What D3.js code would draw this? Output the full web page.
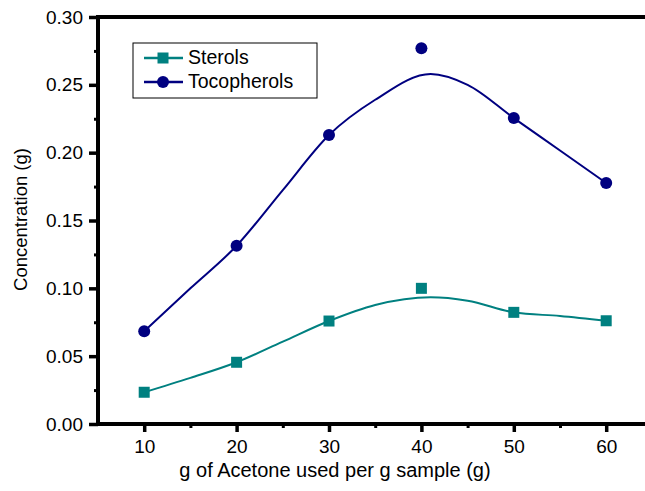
<!DOCTYPE html>
<html>
<head>
<meta charset="utf-8">
<script src="https://cdn.jsdelivr.net/npm/d3@7"></script>
<style>
    body { margin: 0; background: #fff; }
    svg { display: block; font-family: "Liberation Sans", Arial, sans-serif; }
</style>
</head>
<body>
<div id="chart"></div>
<script>
// acetone ratio (g per g sample)
const acetone = [10, 20, 30, 40, 50, 60];

// measured concentrations (g)
const sterols = [0.0234, 0.0455, 0.0759, 0.1000, 0.0823, 0.0761];
const tocopherols = [0.0683, 0.1314, 0.2130, 0.2769, 0.2255, 0.1776];

// smoothed trend lines
const fitX = [10, 15, 20, 25, 30, 35, 41, 45, 50, 55, 60];
const sterolsFit = [0.0234, 0.0340, 0.0455, 0.0607, 0.0759, 0.0877, 0.0934, 0.0909, 0.0823, 0.0796, 0.0761];
const tocopherolsFit = [0.0683, 0.1000, 0.1314, 0.1724, 0.2130, 0.2390, 0.2580, 0.2500, 0.2255, 0.2016, 0.1776];

const yTicks = [0, 0.05, 0.10, 0.15, 0.20, 0.25, 0.30];
const xTicks = [10, 20, 30, 40, 50, 60];

const width = 645;
const height = 491;
const margin = { top: 17, left: 98, bottom: 67 };

const svg = d3.select('#chart')
    .append('svg')
    .attr('width', width)
    .attr('height', height);

const xScale = d3.scaleLinear()
    .domain([5, 65])
    .range([margin.left, margin.left + 60 * 9.24]);

const yScale = d3.scaleLinear()
    .domain([0, 0.30])
    .range([height - margin.bottom, margin.top]);

// minor ticks
const axisColor = '#000';
svg.append('g')
    .attr('transform', `translate(${margin.left},0)`)
    .call(d3.axisLeft(yScale).tickValues(d3.range(0.025, 0.3, 0.05)).tickSize(4).tickFormat(''))
    .call(g => g.select('.domain').remove())
    .call(g => g.selectAll('line').attr('stroke', axisColor).attr('stroke-width', 3));

svg.append('g')
    .attr('transform', `translate(0,${yScale(0)})`)
    .call(d3.axisBottom(xScale).tickValues([15, 25, 35, 45, 55]).tickSize(4).tickFormat(''))
    .call(g => g.select('.domain').remove())
    .call(g => g.selectAll('line').attr('stroke', axisColor).attr('stroke-width', 3));

// y axis
svg.append('g')
    .attr('transform', `translate(${margin.left},0)`)
    .call(d3.axisLeft(yScale).tickValues(yTicks).tickSize(9).tickPadding(6).tickFormat(d3.format('.2f')))
    .call(g => g.select('.domain').remove())
    .call(g => g.selectAll('line').attr('stroke', axisColor).attr('stroke-width', 3.5))
    .call(g => g.selectAll('text').attr('font-size', 19).attr('fill', '#000'));

// x axis
svg.append('g')
    .attr('transform', `translate(0,${yScale(0)})`)
    .call(d3.axisBottom(xScale).tickValues(xTicks).tickSize(8).tickPadding(8))
    .call(g => g.select('.domain').remove())
    .call(g => g.selectAll('line').attr('stroke', axisColor).attr('stroke-width', 3.5))
    .call(g => g.selectAll('text').attr('font-size', 19).attr('fill', '#000'));

// frame: left, bottom and top lines
const [x0, x1] = xScale.range();
svg.append('path')
    .attr('d', `M${x0},${yScale(0.30)}H${x1}M${x0},${yScale(0.30) - 2}V${yScale(0) + 2}M${x0},${yScale(0)}H${x1}`)
    .attr('fill', 'none')
    .attr('stroke', '#000')
    .attr('stroke-width', 4);

const series = [
    { name: 'Sterols', values: sterols, fit: sterolsFit, color: '#008080', marker: 'square' },
    { name: 'Tocopherols', values: tocopherols, fit: tocopherolsFit, color: '#000080', marker: 'circle' }
];

const line = d3.line()
    .x(d => xScale(d[0]))
    .y(d => yScale(d[1]))
    .curve(d3.curveMonotoneX);

function drawMarker(g, s, x, y) {
    if (s.marker === 'square') {
        g.append('rect')
            .attr('x', x - 5.5).attr('y', y - 5.5)
            .attr('width', 11).attr('height', 11)
            .attr('fill', s.color);
    } else {
        g.append('circle')
            .attr('cx', x).attr('cy', y).attr('r', 6)
            .attr('fill', s.color);
    }
}

series.forEach(s => {
    svg.append('path')
        .datum(fitX.map((x, i) => [x, s.fit[i]]))
        .attr('d', line)
        .attr('fill', 'none')
        .attr('stroke', s.color)
        .attr('stroke-width', 2);

    const g = svg.append('g');
    acetone.forEach((x, i) => drawMarker(g, s, xScale(x), yScale(s.values[i])));
});

// legend
const legend = svg.append('g').attr('transform', 'translate(133,43)');
legend.append('rect')
    .attr('width', 184).attr('height', 55)
    .attr('fill', '#fff').attr('stroke', '#000').attr('stroke-width', 1);
series.forEach((s, i) => {
    const y = 15 + i * 24;
    legend.append('line')
        .attr('x1', 11).attr('x2', 50).attr('y1', y).attr('y2', y)
        .attr('stroke', s.color).attr('stroke-width', 2.5);
    drawMarker(legend, s, 30, y);
    legend.append('text')
        .attr('x', 55).attr('y', y + 6)
        .attr('font-size', 19.5)
        .text(s.name);
});

// axis titles
svg.append('text')
    .attr('x', 335)
    .attr('y', 477)
    .attr('text-anchor', 'middle')
    .attr('font-size', 20)
    .text('g of Acetone used per g sample (g)');

svg.append('text')
    .attr('transform', `translate(27,${(yScale(0) + yScale(0.3)) / 2 - 1}) rotate(-90)`)
    .attr('text-anchor', 'middle')
    .attr('font-size', 18.5)
    .text('Concentration (g)');
</script>
</body>
</html>
